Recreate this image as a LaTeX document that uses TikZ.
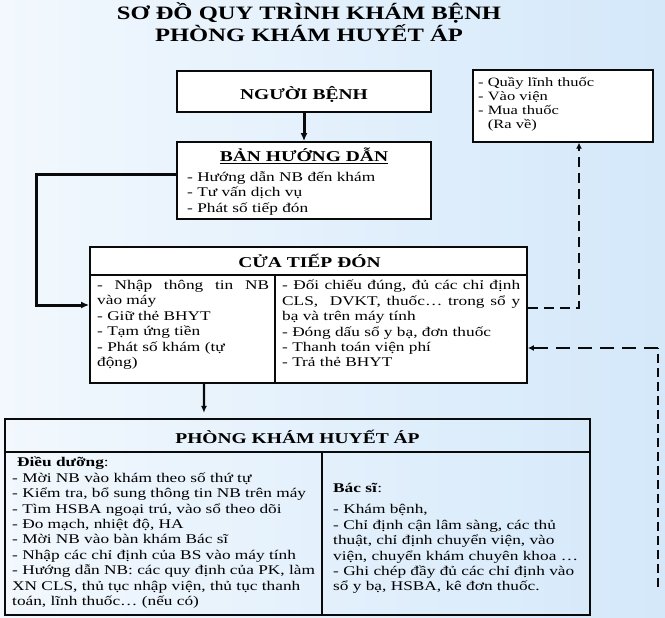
\documentclass[tikz,border=0pt]{standalone}
\usepackage{fontspec}
\setmainfont[FakeStretch=1.3]{Liberation Serif}
\usepackage{tikz}
\usetikzlibrary{arrows.meta,positioning,calc}
\definecolor{bgBlue}{RGB}{212,232,250}
\definecolor{lineBlack}{RGB}{10,10,10}

\begin{document}
\begin{tikzpicture}[
    x=1pt, y=-1pt,
    every node/.style={font=\fontsize{13.3}{15.4}\selectfont, inner sep=0pt},
    box/.style={rectangle, draw=lineBlack, line width=1.8pt, fill=white},
    head/.style={font=\fontsize{15}{17}\selectfont\bfseries},
    cell/.style={anchor=north west, align=left},
    jcell/.style={anchor=north west, align=justify},
    rule/.style={draw=lineBlack, line width=1.5pt},
    arrow/.style={-{Latex[length=7pt,width=6pt]}, line width=2.2pt, lineBlack},
    bigarrow/.style={-{Latex[length=8pt,width=7pt]}, line width=3pt, lineBlack},
    dasharrow/.style={-{Latex[length=6pt,width=6pt]}, line width=2.8pt, dash pattern=on 10pt off 6pt, lineBlack},
    retline/.style={line width=1.2pt, dash pattern=on 9pt off 5pt, lineBlack},
    retarrow/.style={-{Latex[length=6pt,width=6pt]}, line width=2.8pt, dash pattern=on 14pt off 8pt, lineBlack},
    ]
    \useasboundingbox (0,0) rectangle (665,618);
    \shade[left color=bgBlue!30, middle color=white, right color=bgBlue] (0,0) rectangle (665,618);
    % Title
    \node[align=center, font=\fontsize{18.9}{20}\selectfont\bfseries] (title) at (309,22)
        {SƠ ĐỒ QUY TRÌNH KHÁM BỆNH\\PHÒNG KHÁM HUYẾT ÁP};
    % Top row
    \node[box, minimum width=254, minimum height=41] (nb) at (304,91.5) {};
    \node[head] (nbt) at (304,94) {NGƯỜI BỆNH};
    \node[box, line width=1.4pt, minimum width=180, minimum height=72] (rbox) at (563,106) {};
    \node[cell, font=\fontsize{12.7}{14}\selectfont] (rboxt) at (478,77)
        {- Quầy lĩnh thuốc\\- Vào viện\\- Mua thuốc\\\phantom{- }(Ra về)};
    \node[box, minimum width=254, minimum height=77] (bhd) at (304,180.5) {};
    \node[head] (bhdt) at (304,156) {\underline{BẢN HƯỚNG DẪN}};
    \node[cell] (bhdl) at (187,171.5) {- Hướng dẫn NB đến khám\\- Tư vấn dịch vụ\\- Phát số tiếp đón};
    % Reception
    \node[box, minimum width=437, minimum height=136] (ctd) at (308.5,315) {};
    \node[head] (ctdt) at (309.5,261) {CỬA TIẾP ĐÓN};
    \draw[rule] ($(ctd.north west)+(0,29)$) -- ($(ctd.north east)+(0,29)$);
    \draw[rule] ($(ctd.north west)+(186,29)$) -- ($(ctd.south west)+(186,0)$);
    \node[jcell, text width=172] (ctdl) at (97,280)
        {- Nhập thông tin NB\linebreak vào máy\newline - Giữ thẻ BHYT\newline - Tạm ứng tiền\newline - Phát số khám (tự\newline động)};
    \node[jcell, text width=238] (ctdr) at (282,280)
        {- Đối chiếu đúng, đủ các chỉ định\linebreak CLS,~ DVKT, thuốc… trong sổ y\linebreak bạ và trên máy tính\newline - Đóng dấu sổ y bạ, đơn thuốc\newline - Thanh toán viện phí\newline - Trả thẻ BHYT};
    % Clinic
    \node[box, fill=none, line width=2.2pt, minimum width=585, minimum height=196] (pk) at (297.5,517) {};
    \node[head] (pkt) at (297.5,437) {PHÒNG KHÁM HUYẾT ÁP};
    \draw[rule] ($(pk.north west)+(0,34)$) -- ($(pk.north east)+(0,34)$);
    \draw[rule, line width=2pt] ($(pk.north west)+(318,34)$) -- ($(pk.south west)+(318,0)$);
    \node[cell] (pkl) at (12,457)
        {\hspace*{5pt}\textbf{Điều dưỡng}:\\- Mời NB vào khám theo số thứ tự\\- Kiểm tra, bổ sung thông tin NB trên máy\\- Tìm HSBA ngoại trú, vào sổ theo dõi\\- Đo mạch, nhiệt độ, HA\\- Mời NB vào bàn khám Bác sĩ\\- Nhập các chỉ định của BS vào máy tính\\- Hướng dẫn NB: các quy định của PK, làm\\XN CLS, thủ tục nhập viện, thủ tục thanh\\toán, lĩnh thuốc… (nếu có)};
    \node[cell] (pkr) at (333,483)
        {\textbf{Bác sĩ}:\\[6pt]- Khám bệnh,\\- Chỉ định cận lâm sàng, các thủ\\thuật, chỉ định chuyển viện, vào\\viện, chuyển khám chuyên khoa …\\- Ghi chép đầy đủ các chỉ định vào\\sổ y bạ, HSBA, kê đơn thuốc.};
    % Arrows
    \draw[bigarrow] (nb) -- (bhd);
    \draw[bigarrow] ($(bhd.west)+(0,-6)$) -- ++(-140,0) |- ($(ctd.west)+(0,-10)$);
    \draw[arrow, shorten >=5pt] ($(ctd.south west)+(115,0)$) -- ($(pk.north west)+(200,0)$);
    \draw[dasharrow] ($(ctd.east)+(0,-7)$) -| ($(rbox.south)+(16,0)$);
    \coordinate (ret) at (658,587);
    \draw[retline] (ret) -- ++(0,-239) coordinate (retc);
    \draw[retarrow] (retc) -- (retc -| ctd.east);
\end{tikzpicture}
\end{document}
